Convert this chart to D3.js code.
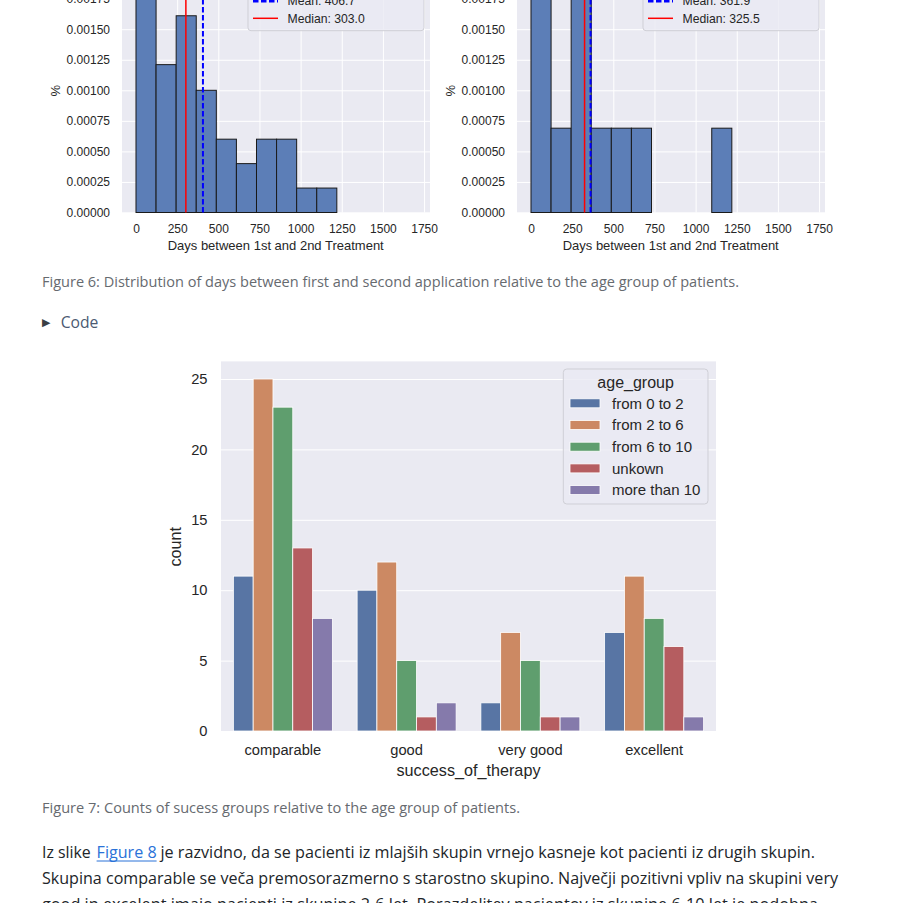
<!DOCTYPE html>
<html>
<head>
<meta charset="utf-8">
<script src="https://cdn.jsdelivr.net/npm/d3@7"></script>
<style>
  html, body { margin: 0; padding: 0; background: #fff; overflow: hidden; }
  svg { display: block; }
  .chart text { font-family: "Liberation Sans", Arial, sans-serif; fill: #262626; }
  .page text { font-family: "Open Sans", "Noto Sans", sans-serif; }
</style>
</head>
<body>
<svg id="page" width="903" height="903"></svg>
<script>
// ---------------------------------------------------------------------------
// data

// histograms (Figure 6, only the lower part is visible)
var daysTicks = [0, 250, 500, 750, 1000, 1250, 1500, 1750];
var densityTicks = [0, 0.00025, 0.0005, 0.00075, 0.001, 0.00125, 0.0015, 0.00175];
var binStart = 0, binWidth = 122;
var leftDensity = [0.00181, 0.00121, 0.00161, 0.00100, 0.00060, 0.00040, 0.00060, 0.00060, 0.00020, 0.00020];
var rightDensity = [0.00276, 0.00069, 0.00207, 0.00069, 0.00069, 0.00069, 0, 0, 0, 0.00069];
var leftMean = 406.7, leftMedian = 303.0;
var rightMean = 361.9, rightMedian = 325.5;

// count plot (Figure 7)
var categories = ['comparable', 'good', 'very good', 'excellent'];
var ageGroups = ['from 0 to 2', 'from 2 to 6', 'from 6 to 10', 'unkown', 'more than 10'];
var from0to2 = [11, 10, 2, 7];
var from2to6 = [25, 12, 7, 11];
var from6to10 = [23, 5, 5, 8];
var unknownAge = [13, 1, 1, 6];
var moreThan10 = [8, 2, 1, 1];
var countTicks = [0, 5, 10, 15, 20, 25];
var ageColors = ['#5875a4', '#cc8963', '#5f9e6e', '#b55d60', '#857aab'];

// ---------------------------------------------------------------------------

var svg = d3.select('#page');
var chart = svg.append('g').attr('class', 'chart');
var page = svg.append('g').attr('class', 'page');

function styleAxis(g) {
  g.select('.domain').remove();
  g.selectAll('.tick line').attr('stroke', '#fff').attr('stroke-width', 1);
}

function histogram(left, densities, mean, median) {
  var w = 308, bottom = 212.5, top = -60;
  var x = d3.scaleLinear().domain([-85, 1786]).range([left, left + w]);
  var y = d3.scaleLinear().domain([0, 0.00025]).range([bottom, bottom - 30.55]);
  var g = chart.append('g');

  g.append('rect')
    .attr('x', left).attr('y', top)
    .attr('width', w).attr('height', bottom - top)
    .attr('fill', '#eaeaf2');

  g.append('g')
    .attr('transform', 'translate(0,' + bottom + ')')
    .call(d3.axisBottom(x).tickValues(daysTicks).tickFormat(d3.format('d'))
      .tickSize(-(bottom - top)).tickPadding(12))
    .call(styleAxis)
    .selectAll('text').attr('font-size', 12).attr('fill', '#262626');

  g.append('g')
    .attr('transform', 'translate(' + left + ',0)')
    .call(d3.axisLeft(y).tickValues(densityTicks).tickFormat(d3.format('.5f'))
      .tickSize(-w).tickPadding(12))
    .call(styleAxis)
    .selectAll('text').attr('font-size', 12).attr('fill', '#262626');

  g.selectAll('rect.bin')
    .data(densities.map(function(d, i) { return { i: i, v: d }; })
      .filter(function(d) { return d.v > 0; }))
    .enter().append('rect')
    .attr('class', 'bin')
    .attr('x', function(d) { return x(binStart + d.i * binWidth); })
    .attr('width', function(d) { return x(binStart + (d.i + 1) * binWidth) - x(binStart + d.i * binWidth); })
    .attr('y', function(d) { return y(d.v); })
    .attr('height', function(d) { return y(0) - y(d.v); })
    .attr('fill', '#5c7eb7')
    .attr('stroke', '#1a1a1a')
    .attr('stroke-width', 1);

  g.append('line')
    .attr('x1', x(median)).attr('x2', x(median))
    .attr('y1', bottom).attr('y2', top)
    .attr('stroke', '#ff0000').attr('stroke-width', 1.5);
  g.append('line')
    .attr('x1', x(mean)).attr('x2', x(mean))
    .attr('y1', bottom).attr('y2', top)
    .attr('stroke', '#0000ff').attr('stroke-width', 2)
    .attr('stroke-dasharray', '5.5,2.5');

  // legend, mostly scrolled off the top
  var lx = left + 126, lw = 176;
  g.append('rect')
    .attr('x', lx).attr('y', -40).attr('width', lw).attr('height', 70.7)
    .attr('rx', 3)
    .attr('fill', '#eaeaf2').attr('fill-opacity', 0.8)
    .attr('stroke', '#cfcfd6');
  var items = [
    { label: 'Mean: ' + mean.toFixed(1), color: '#0000ff', dash: '5.5,2.5', width: 2.5, cy: 1.2 },
    { label: 'Median: ' + median.toFixed(1), color: '#ff0000', dash: null, width: 1.5, cy: 18.3 }
  ];
  items.forEach(function(it) {
    g.append('line')
      .attr('x1', lx + 5).attr('x2', lx + 30)
      .attr('y1', it.cy).attr('y2', it.cy)
      .attr('stroke', it.color).attr('stroke-width', it.width)
      .attr('stroke-dasharray', it.dash);
    g.append('text')
      .attr('x', lx + 39.5).attr('y', it.cy).attr('dy', '0.35em')
      .attr('font-size', 12.2)
      .text(it.label);
  });

  g.append('text')
    .attr('transform', 'translate(' + (left - 67) + ',90.7) rotate(-90)')
    .attr('text-anchor', 'middle').attr('dy', '0.35em')
    .attr('font-size', 13)
    .text('%');
  g.append('text')
    .attr('x', left + w / 2 - 0.3).attr('y', 245).attr('dy', '0.35em')
    .attr('text-anchor', 'middle')
    .attr('font-size', 13)
    .text('Days between 1st and 2nd Treatment');
}

histogram(122, leftDensity, leftMean, leftMedian);
histogram(517, rightDensity, rightMean, rightMedian);

// ---------------------------------------------------------------------------
// count plot

(function() {
  var left = 221, right = 716, bottom = 731;
  var x = d3.scaleBand().domain(categories).range([left, right]);
  var y = d3.scaleLinear().domain([0, 26.25]).range([bottom, bottom - 26.25 * 14.08]);
  var hue = d3.scaleBand().domain(ageGroups).range([0, x.bandwidth() * 0.8]);
  var color = d3.scaleOrdinal().domain(ageGroups).range(ageColors);
  var series = [from0to2, from2to6, from6to10, unknownAge, moreThan10];
  var g = chart.append('g');

  g.append('rect')
    .attr('x', left).attr('y', y(26.25))
    .attr('width', right - left).attr('height', bottom - y(26.25))
    .attr('fill', '#eaeaf2');

  g.append('g')
    .attr('transform', 'translate(' + left + ',0)')
    .call(d3.axisLeft(y).tickValues(countTicks).tickSize(-(right - left)).tickPadding(13.5))
    .call(styleAxis)
    .selectAll('text').attr('font-size', 14.7).attr('fill', '#262626');

  g.append('g')
    .attr('transform', 'translate(0,' + bottom + ')')
    .call(d3.axisBottom(x).tickSize(0).tickPadding(14))
    .call(styleAxis)
    .selectAll('text').attr('font-size', 14.7).attr('fill', '#262626')
    .attr('dy', '0.71em');

  var cells = [];
  series.forEach(function(vals, k) {
    vals.forEach(function(v, i) {
      cells.push({ cat: categories[i], group: ageGroups[k], value: v });
    });
  });

  g.selectAll('rect.bar')
    .data(cells)
    .enter().append('rect')
    .attr('class', 'bar')
    .attr('x', function(d) { return x(d.cat) + x.bandwidth() * 0.1 + hue(d.group); })
    .attr('width', hue.bandwidth())
    .attr('y', function(d) { return y(d.value); })
    .attr('height', function(d) { return y(0) - y(d.value); })
    .attr('fill', function(d) { return color(d.group); })
    .attr('stroke', '#fff')
    .attr('stroke-width', 0.8);

  g.append('text')
    .attr('transform', 'translate(175.3,546.7) rotate(-90)')
    .attr('text-anchor', 'middle').attr('dy', '0.35em')
    .attr('font-size', 16.2)
    .text('count');
  g.append('text')
    .attr('x', (left + right) / 2).attr('y', 770).attr('dy', '0.35em')
    .attr('text-anchor', 'middle')
    .attr('font-size', 16.2)
    .text('success_of_therapy');

  // legend
  var lg = g.append('g');
  lg.append('rect')
    .attr('x', 563.3).attr('y', 369).attr('width', 144.7).attr('height', 135)
    .attr('rx', 3.5)
    .attr('fill', '#eaeaf2').attr('fill-opacity', 0.8)
    .attr('stroke', '#cfcfd6');
  lg.append('text')
    .attr('x', 635.6).attr('y', 382.5).attr('dy', '0.35em')
    .attr('text-anchor', 'middle')
    .attr('font-size', 16)
    .text('age_group');
  var entry = lg.selectAll('g.entry')
    .data(ageGroups)
    .enter().append('g')
    .attr('class', 'entry')
    .attr('transform', function(d, i) { return 'translate(0,' + (403.3 + i * 21.7) + ')'; });
  entry.append('rect')
    .attr('x', 570).attr('y', -4.5).attr('width', 30).attr('height', 9)
    .attr('fill', function(d) { return color(d); })
    .attr('stroke', '#fff').attr('stroke-width', 0.8);
  entry.append('text')
    .attr('x', 612).attr('dy', '0.35em')
    .attr('font-size', 15)
    .text(function(d) { return d; });
})();

// ---------------------------------------------------------------------------
// page text

function pageText(x, y, str, width, size, color) {
  return page.append('text')
    .attr('x', x).attr('y', y).attr('dy', '0.35em')
    .attr('font-size', size)
    .attr('fill', color)
    .attr('textLength', width)
    .attr('lengthAdjust', 'spacingAndGlyphs')
    .text(str);
}

pageText(42, 281.7, 'Figure 6: Distribution of days between first and second application relative to the age group of patients.', 697, 15, '#666a6f');
page.append('text')
  .attr('x', 42).attr('y', 321.7).attr('dy', '0.35em')
  .attr('font-family', 'DejaVu Sans')
  .attr('font-size', 11)
  .attr('fill', '#3a3f45')
  .text('\u25B6');
pageText(60.7, 321.7, 'Code', 37.7, 17, '#4b5a72');

pageText(42, 808, 'Figure 7: Counts of sucess groups relative to the age group of patients.', 478, 15, '#666a6f');

pageText(42, 851.7, 'Iz slike', 48.7, 17, '#212529');
pageText(96.6, 851.7, 'Figure 8', 60, 17, '#2a72d8');
page.append('line')
  .attr('x1', 96.6).attr('x2', 156.6)
  .attr('y1', 861).attr('y2', 861)
  .attr('stroke', '#2a72d8').attr('stroke-width', 1);
pageText(160.5, 851.7, 'je razvidno, da se pacienti iz mlajših skupin vrnejo kasneje kot pacienti iz drugih skupin.', 654.5, 17, '#212529');
pageText(42, 878, 'Skupina comparable se veča premosorazmerno s starostno skupino. Največji pozitivni vpliv na skupini very', 796, 17, '#212529');
pageText(42, 904.3, 'good in excelent imajo pacienti iz skupine 2-6 let. Porazdelitev pacientov iz skupine 6-10 let je podobna', 776, 17, '#212529');
</script>
</body>
</html>
